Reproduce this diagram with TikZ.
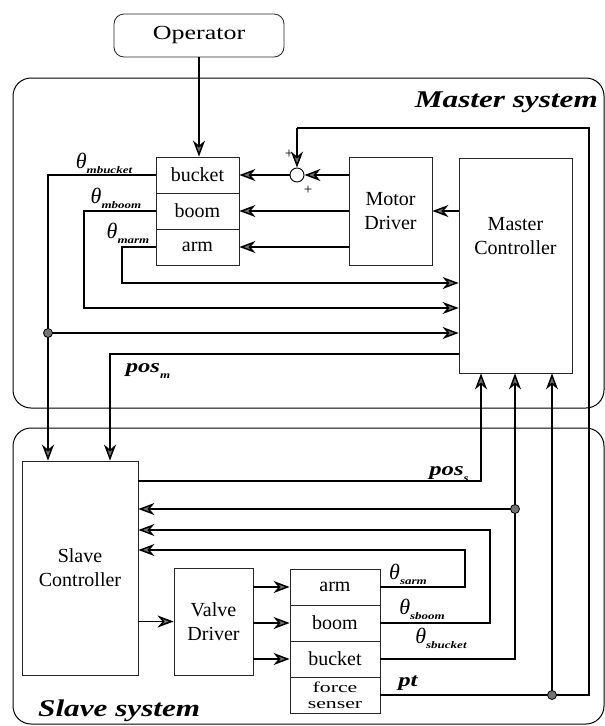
\documentclass[tikz,border=0pt]{standalone}
\usepackage{fontspec}
\setmainfont{Liberation Serif}
\newfontfamily\widefont[FakeStretch=1.3]{Liberation Serif}
\newfontfamily\forcefont[FakeStretch=1.45]{Liberation Serif}
\usetikzlibrary{arrows.meta,calc}

\tikzset{
  blk/.style={draw=black!85, line width=0.8pt, fill=white, inner sep=0pt, align=center,
    font=\fontsize{20}{24}\selectfont},
  cell/.style={blk, minimum height=36pt},
  sys/.style={draw=black, line width=1pt, rounded corners=18pt},
  line/.style={line width=1.5pt},
  arr/.style={line, -{Stealth[length=16pt,width=12pt,inset=5pt,fill=black!55]}},
  dot/.style={circle, draw=black, line width=0.8pt, fill=black!55, minimum size=9pt, inner sep=0pt},
  lbl/.style={inner sep=0pt, font=\fontsize{22}{22}\selectfont},
  sign/.style={inner sep=0pt, font=\fontsize{15}{15}\selectfont},
  title/.style={inner sep=0pt, font=\widefont\bfseries\itshape\fontsize{24}{24}\selectfont},
}

\newcommand{\ang}[1]{\textit{θ}\raisebox{-0.5ex}{\widefont\bfseries\itshape\fontsize{10}{10}\selectfont #1}}
\newcommand{\sig}[2]{{\widefont\bfseries\itshape\fontsize{19}{19}\selectfont #1}\raisebox{-0.55ex}{\widefont\bfseries\itshape\fontsize{10}{10}\selectfont #2}}

\begin{document}
\begin{tikzpicture}[x=1pt, y=-1pt]
    \useasboundingbox (0,0) rectangle (605,726);

    % System frames
    \draw[sys] (13,78) rectangle (604,408);
    \draw[sys] (13,428) rectangle (604,724);
    \node[title, anchor=base east] (mtitle) at (598,107) {Master system};
    \node[title, anchor=base west] (stitle) at (38,716) {Slave system};

    % Operator
    \node[blk, rounded corners=10pt, minimum width=170pt, minimum height=43pt,
      font=\widefont\fontsize{20}{24}\selectfont] (op) at (199,35.5) {Operator};

    % Master joints, driver and controller
    \node[cell, minimum width=83pt] (mbucket) at (197.5,175) {bucket};
    \node[cell, minimum width=83pt] (mboom) at (197.5,211) {boom};
    \node[cell, minimum width=83pt] (marm) at (197.5,247) {arm};
    \node[blk, minimum width=83pt, minimum height=108pt] (md) at (390.5,211) {Motor\\Driver};
    \node[blk, minimum width=113pt, minimum height=215pt] (mc) at (515.5,265.5) {};
    \node[blk, draw=none, fill=none, yshift=29pt] (mctext) at (mc.center) {Master\\Controller};

    % Summing point
    \node[circle, draw, line width=0.9pt, minimum size=14pt, inner sep=0pt] (sum) at (297,175) {};
    \node[sign] (plusa) at (289,154) {+};
    \node[sign] (plusb) at (308,190) {+};

    % Slave controller, driver and joints
    \node[blk, minimum width=116pt, minimum height=214pt] (sc) at (80,568) {Slave\\Controller};
    \node[blk, minimum width=79pt, minimum height=107pt] (vd) at (213.5,621.5) {Valve\\Driver};
    \node[cell, minimum width=90pt] (sarm) at (335,587) {arm};
    \node[cell, minimum width=90pt] (sboom) at (335,623) {boom};
    \node[cell, minimum width=90pt] (sbucket) at (335,659) {bucket};
    \node[cell, minimum width=90pt, font=\forcefont\fontsize{15}{16}\selectfont] (sforce) at (335,695) {force\\senser};

    % Bend points
    \coordinate (fbR) at (589,128);
    \coordinate (fbL) at (297,128);
    \coordinate (ptR) at (589,695);
    \coordinate (ptbranch) at (552,695);
    \coordinate (mbk) at (48,175);
    \coordinate (mbranch) at (48,333);
    \coordinate (mbma) at (84,211);
    \coordinate (mbmb) at (84,308);
    \coordinate (mara) at (122,247);
    \coordinate (marb) at (122,283);
    \coordinate (pma) at (110,354);
    \coordinate (psa) at (481,481);
    \coordinate (sbk) at (515,659);
    \coordinate (sbranch) at (515,509);
    \coordinate (sbma) at (490,623);
    \coordinate (sbmb) at (490,530);
    \coordinate (sara) at (465,587);
    \coordinate (sarb) at (465,550);

    % Master forward path
    \draw[arr] (op.south) -- (op.south |- mbucket.north);
    \draw[arr] (md.west |- sum) -- (sum.east);
    \draw[arr] (sum.west) -- (mbucket.east);
    \draw[arr] (md.west |- mboom) -- (mboom.east);
    \draw[arr] (md.west |- marm) -- (marm.east);
    \draw[arr] (mc.west |- md) -- (md.east);

    % Force feedback
    \draw[line] (sforce.east) -- (ptbranch) -- (ptR) -- (fbR) -- (fbL);
    \draw[arr] (fbL) -- (sum.north);
    \draw[arr] (ptbranch) -- (ptbranch |- mc.south);

    % Master angles
    \draw[arr] (mbucket.west) -- (mbk) -- (mbk |- sc.north);
    \draw[arr] (mbranch) -- (mbranch -| mc.west);
    \draw[arr] (mboom.west) -- (mbma) -- (mbmb) -- (mbmb -| mc.west);
    \draw[arr] (marm.west) -- (mara) -- (marb) -- (marb -| mc.west);
    \draw[arr] (mc.west |- pma) -- (pma) -- (pma |- sc.north);

    % Slave paths
    \draw[arr] (sc.east |- psa) -- (psa) -- (psa |- mc.south);
    \draw[arr] (sbucket.east) -- (sbk) -- (sbk |- mc.south);
    \draw[arr] (sbranch) -- (sbranch -| sc.east);
    \draw[arr] (sboom.east) -- (sbma) -- (sbmb) -- (sbmb -| sc.east);
    \draw[arr] (sarm.east) -- (sara) -- (sarb) -- (sarb -| sc.east);
    \draw[arr] (sc.east |- vd) -- (vd.west);
    \draw[arr] (vd.east |- sarm) -- (sarm.west);
    \draw[arr] (vd.east |- sboom) -- (sboom.west);
    \draw[arr] (vd.east |- sbucket) -- (sbucket.west);

    % Branch dots
    \node[dot] (mdot) at (mbranch) {};
    \node[dot] (sdot) at (sbranch) {};
    \node[dot] (ptdot) at (ptbranch) {};

    % Signal labels
    \node[lbl] (thmbucket) at (104,163) {\ang{mbucket}};
    \node[lbl] (thmboom) at (116,198) {\ang{mboom}};
    \node[lbl] (thmarm) at (128,233) {\ang{marm}};
    \node[lbl] (posm) at (148,371) {\sig{pos}{m}};
    \node[lbl] (poss) at (449,474) {\sig{pos}{s}};
    \node[lbl] (thsarm) at (408,574) {\ang{sarm}};
    \node[lbl] (thsboom) at (422,609) {\ang{sboom}};
    \node[lbl] (thsbucket) at (441,638) {\ang{sbucket}};
    \node[lbl] (ptlbl) at (408,684) {\sig{pt}{}};
\end{tikzpicture}
\end{document}
